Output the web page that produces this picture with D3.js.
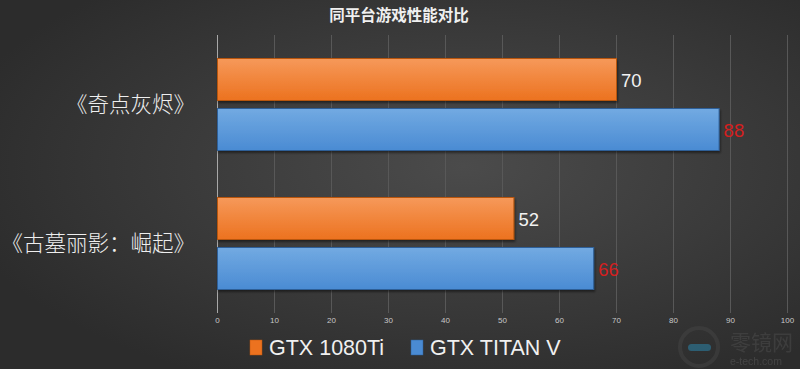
<!DOCTYPE html>
<html>
<head>
<meta charset="utf-8">
<script src="https://cdn.jsdelivr.net/npm/d3@7"></script>
<style>
  html, body { margin: 0; padding: 0; background: #333; }
  svg { display: block; }
</style>
</head>
<body>
<svg id="chart" width="800" height="369"></svg>
<script>
// data
var games = ["《奇点灰烬》", "《古墓丽影：崛起》"];
var seriesNames = ["GTX 1080Ti", "GTX TITAN V"];
var gtx1080ti = [70, 52];
var titanV = [88, 66];
var xTicks = [0, 10, 20, 30, 40, 50, 60, 70, 80, 90, 100];

var svg = d3.select("#chart"),
    width = +svg.attr("width"),
    height = +svg.attr("height");

var defs = svg.append("defs");

// background
var bg = defs.append("radialGradient")
    .attr("id", "bg")
    .attr("cx", "58%").attr("cy", "45%").attr("r", "65%");
bg.append("stop").attr("offset", "0%").attr("stop-color", "#4b4b4b");
bg.append("stop").attr("offset", "100%").attr("stop-color", "#2c2c2c");

svg.append("rect")
    .attr("width", width)
    .attr("height", height)
    .attr("fill", "url(#bg)");

// bar gradients
var colors = [
    { id: "gOrange", top: "#f6995a", bottom: "#ec721f", stroke: "#b8560f" },
    { id: "gBlue", top: "#72aae2", bottom: "#4a8bd3", stroke: "#2e5f98" }
];
colors.forEach(function (c) {
    var g = defs.append("linearGradient")
        .attr("id", c.id)
        .attr("x1", 0).attr("y1", 0).attr("x2", 0).attr("y2", 1);
    g.append("stop").attr("offset", "0%").attr("stop-color", c.top);
    g.append("stop").attr("offset", "100%").attr("stop-color", c.bottom);
});

var shadow = defs.append("filter").attr("id", "shadow")
    .attr("x", "-5%").attr("y", "-10%").attr("width", "110%").attr("height", "130%");
shadow.append("feDropShadow")
    .attr("dx", 1).attr("dy", 2).attr("stdDeviation", 1)
    .attr("flood-color", "#000").attr("flood-opacity", 0.45);

// scales
var x = d3.scaleLinear().domain([0, 100]).range([217, 787]);

var y0 = d3.scaleBand()
    .domain(games)
    .range([35, 313])
    .paddingInner(0.338)
    .paddingOuter(0.169);

var y1 = d3.scaleBand()
    .domain([0, 1])
    .range([0, y0.bandwidth()])
    .paddingInner(0.16);

// title
svg.append("text")
    .attr("x", 399)
    .attr("y", 21)
    .attr("text-anchor", "middle")
    .style("font-family", "'Noto Sans CJK SC'")
    .style("font-weight", "bold")
    .style("font-size", "15.5px")
    .style("fill", "#f0f0f0")
    .text("同平台游戏性能对比");

// gridlines
svg.append("g")
    .selectAll("line")
    .data(xTicks)
    .enter()
    .append("line")
    .attr("x1", function (d) { return x(d) + 0.5; })
    .attr("x2", function (d) { return x(d) + 0.5; })
    .attr("y1", 35)
    .attr("y2", 313)
    .style("stroke", function (d) { return d === 0 ? "#a8a8a8" : "#585858"; })
    .style("stroke-width", 1);

// x axis labels
var xAxis = svg.append("g")
    .attr("transform", "translate(0,313)")
    .call(d3.axisBottom(x).tickValues(xTicks).tickSize(0).tickPadding(4));
xAxis.select(".domain").remove();
xAxis.selectAll("text")
    .style("font-family", "'Liberation Sans Narrow', 'Liberation Sans'")
    .style("font-size", "8px")
    .style("fill", "#c8c8c8");

// category labels
svg.append("g")
    .selectAll("text")
    .data(games)
    .enter()
    .append("text")
    .attr("x", 195)
    .attr("y", function (d) { return y0(d) + y0.bandwidth() / 2; })
    .attr("dy", "0.36em")
    .attr("text-anchor", "end")
    .style("font-family", "'Noto Sans CJK SC'")
    .style("font-weight", 300)
    .style("font-size", "21.5px")
    .style("fill", "#eeeeee")
    .text(function (d) { return d; });

// bars
var rows = [];
games.forEach(function (g, i) {
    rows.push({ game: g, s: 0, value: gtx1080ti[i] });
    rows.push({ game: g, s: 1, value: titanV[i] });
});

svg.append("g")
    .selectAll("rect")
    .data(rows)
    .enter()
    .append("rect")
    .attr("x", x(0) + 0.5)
    .attr("y", function (d) { return y0(d.game) + y1(d.s); })
    .attr("width", function (d) { return x(d.value) - x(0); })
    .attr("height", y1.bandwidth())
    .attr("fill", function (d) { return "url(#" + colors[d.s].id + ")"; })
    .style("stroke", function (d) { return colors[d.s].stroke; })
    .style("stroke-width", 1)
    .attr("filter", "url(#shadow)");

// value labels
svg.append("g")
    .selectAll("text")
    .data(rows)
    .enter()
    .append("text")
    .attr("x", function (d) { return x(d.value) + 5; })
    .attr("y", function (d) { return y0(d.game) + y1(d.s) + y1.bandwidth() / 2 + 1; })
    .attr("dy", "0.36em")
    .style("font-family", "'Liberation Sans'")
    .style("font-size", "18.5px")
    .style("fill", function (d) { return d.s === 0 ? "#f2f2f2" : "#d41f1f"; })
    .text(function (d) { return d.value; });

// legend
var legendX = [250, 411];
var legend = svg.append("g")
    .selectAll("g")
    .data(seriesNames)
    .enter()
    .append("g")
    .attr("transform", function (d, i) { return "translate(" + legendX[i] + ",340)"; });

legend.append("rect")
    .attr("width", 12)
    .attr("height", 15)
    .attr("fill", function (d, i) { return colors[i].bottom; })
    .style("stroke", function (d, i) { return colors[i].stroke; })
    .style("stroke-width", 0.5);

legend.append("text")
    .attr("x", 19)
    .attr("y", 15)
    .style("font-family", "'Liberation Sans'")
    .style("font-size", "21.5px")
    .style("fill", "#f0f0f0")
    .text(function (d) { return d; });

// watermark
var wm = svg.append("g").style("opacity", 0.4);
wm.append("circle")
    .attr("cx", 699).attr("cy", 347).attr("r", 19)
    .style("fill", "none").style("stroke", "#4a4a4a").style("stroke-width", 4);
wm.append("rect")
    .attr("x", 688).attr("y", 344).attr("width", 23).attr("height", 7).attr("rx", 3.5)
    .attr("fill", "#2aa3d6");
wm.append("text")
    .attr("x", 730).attr("y", 350)
    .style("font-family", "'Noto Sans CJK SC'")
    .style("font-size", "21px")
    .style("fill", "#555")
    .text("零镜网");
wm.append("text")
    .attr("x", 730).attr("y", 365)
    .style("font-family", "'Liberation Sans'")
    .style("font-size", "10.5px")
    .style("fill", "#666")
    .text("e-tech.com");
</script>
</body>
</html>
